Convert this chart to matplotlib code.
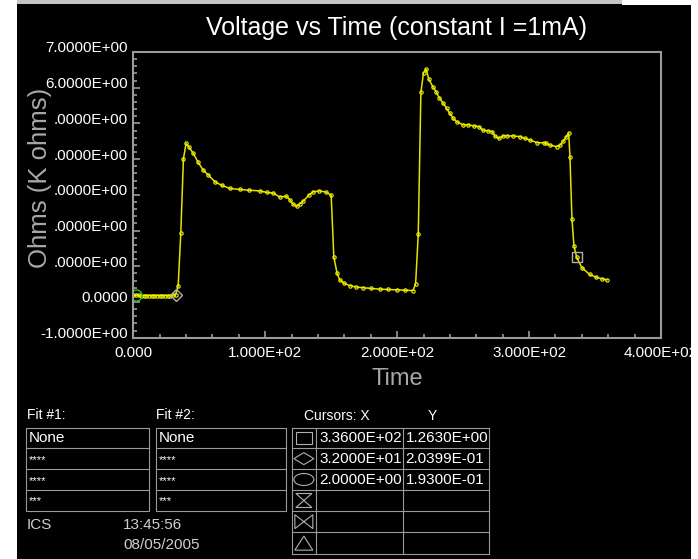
"""Voltage vs Time screen capture - ICS style readout with fit and cursor tables"""
import matplotlib
matplotlib.use("Agg")
import matplotlib.pyplot as plt
from matplotlib.patches import Rectangle, Ellipse, Polygon
from matplotlib.ticker import MultipleLocator, FixedLocator, FixedFormatter
from matplotlib.transforms import ScaledTranslation

plt.rcParams['font.family'] = ['Liberation Sans', 'DejaVu Sans']

# time (s) and resistance (K ohms)
time_s = [0, 2, 4, 6, 8, 10, 12, 14, 16, 18, 20, 22, 24, 26, 28, 30, 32,
          34, 36, 38, 40, 42, 45.5, 49, 53, 57, 62, 67, 73, 81, 88, 96,
          101, 106, 111, 116, 119, 121, 124, 126, 129, 133, 136, 141, 146,
          150, 152, 154.5, 156.5, 160, 164, 169, 174, 180, 187, 193, 200,
          206, 212, 214, 216, 218, 220, 222, 224, 227, 229.5, 232, 235,
          237.5, 240, 242.5, 245, 250, 254, 258, 262, 265, 269, 272, 274,
          277, 280.5, 283, 288, 293, 297, 301, 306, 311, 313, 316, 321,
          323.5, 326, 328, 330, 331, 332.5, 334, 336, 340, 346, 351, 355,
          359]
ohms = [0.19, 0.19, 0.19, 0.18, 0.18, 0.18, 0.18, 0.18, 0.18, 0.18, 0.18,
        0.18, 0.18, 0.18, 0.18, 0.19, 0.20,
        0.45, 1.92, 4.01, 4.44, 4.35, 4.16, 3.92, 3.69, 3.55, 3.36, 3.27,
        3.18, 3.15, 3.13, 3.11, 3.07, 3.05, 2.94, 2.96, 2.85, 2.74, 2.68,
        2.74, 2.83, 2.99, 3.08, 3.11, 3.08,
        2.99, 1.26, 0.80, 0.62, 0.52, 0.46, 0.42, 0.40, 0.38, 0.36, 0.35,
        0.34, 0.33, 0.32, 0.51, 1.89, 5.87, 6.42, 6.52, 6.24, 6.03, 5.89,
        5.71, 5.56, 5.42, 5.28, 5.14, 5.05, 4.96, 4.96, 4.93, 4.91, 4.81,
        4.79, 4.77, 4.65, 4.58, 4.65, 4.65, 4.65, 4.63, 4.58, 4.53, 4.46,
        4.46, 4.44, 4.39, 4.35, 4.39, 4.51, 4.61, 4.74, 4.06, 2.33, 1.58,
        1.26, 0.96, 0.77, 0.69, 0.65, 0.62]

# cursor readout
cursor_x = [336.0, 32.0, 2.0]
cursor_y = [1.2630, 0.20399, 0.1930]
cursor_x_txt = ['3.3600E+02', '3.2000E+01', '2.0000E+00']
cursor_y_txt = ['1.2630E+00', '2.0399E-01', '1.9300E-01']

ytick_vals = [-1, 0, 1, 2, 3, 4, 5, 6, 7]
ytick_txt = ['-1.0000E+00', '0.0000', '.0000E+00', '.0000E+00', '.0000E+00',
             '.0000E+00', '.0000E+00', '6.0000E+00', '7.0000E+00']
xtick_vals = [0, 100, 200, 300, 400]
xtick_txt = ['0.000', '1.000E+02', '2.000E+02', '3.000E+02', '4.000E+02']

fit_rows = ['None', '****', '****', '***']

W, H = 698, 559
GRID = '#9a9a9a'

fig = plt.figure(figsize=(W / 100, H / 100), dpi=100, facecolor='black')

# overlay in pixel coordinates for the window chrome and tables
ov = fig.add_axes([0, 0, 1, 1], zorder=0)
ov.set_xlim(0, W)
ov.set_ylim(H, 0)
ov.axis('off')
ov.add_patch(Rectangle((0, 0), 17, H, facecolor='white', edgecolor='none'))
ov.add_patch(Rectangle((17, 0), 605, 4, facecolor='#c4c4c4', edgecolor='none'))
ov.add_patch(Rectangle((622, 0), W - 622, 5, facecolor='white', edgecolor='none'))
ov.add_patch(Rectangle((691, 0), 7, H, facecolor='white', edgecolor='none'))

# main plot
ax = fig.add_axes([133.3 / W, 1 - 337.7 / H, 527.7 / W, 285.7 / H], zorder=2)
ax.set_facecolor('black')
ax.plot(time_s, ohms, color='#e4e400', linewidth=1.1, marker='o', markersize=2.4,
        markerfacecolor='none', markeredgecolor='#f4f400', markeredgewidth=0.8)

ax.plot(cursor_x[0], cursor_y[0], marker='s', markersize=7, mfc='none',
        mec='#b0b0b0', mew=1.0, linestyle='none')
ax.plot(cursor_x[1], cursor_y[1], marker='D', markersize=6, mfc='none',
        mec='#b0b0b0', mew=1.0, linestyle='none')
ax.plot(cursor_x[2], cursor_y[2], marker='o', markersize=8, mfc='none',
        mec='#20c020', mew=1.0, linestyle='none')

ax.set_xlim(0, 400)
ax.set_ylim(-1, 7)
for s in ax.spines.values():
    s.set_color(GRID)
    s.set_linewidth(1.5)

ax.yaxis.set_major_locator(FixedLocator(ytick_vals))
ax.yaxis.set_major_formatter(FixedFormatter(ytick_txt))
ax.yaxis.set_minor_locator(MultipleLocator(0.2))
ax.xaxis.set_major_locator(FixedLocator(xtick_vals))
ax.xaxis.set_major_formatter(FixedFormatter(xtick_txt))
ax.xaxis.set_minor_locator(MultipleLocator(20))
ax.tick_params(which='both', direction='in', color=GRID, labelcolor='white',
               labelsize=11, width=1.2)
ax.tick_params(which='major', length=5)
ax.tick_params(which='minor', length=2.8)
ax.tick_params(axis='y', pad=4)
ax.tick_params(axis='x', pad=6)
shift = ScaledTranslation(0, 0.05, fig.dpi_scale_trans)
for lab in ax.get_yticklabels():
    lab.set_transform(lab.get_transform() + shift)

fig.text(397 / W, 1 - 28 / H, 'Voltage vs Time (constant I =1mA)', color='white',
         fontsize=18, ha='center', va='center')
fig.text(397 / W, 1 - 379 / H, 'Time', color='#a8a8a8', fontsize=17,
         ha='center', va='center')
fig.text(40 / W, 1 - 178 / H, 'Ohms (K ohms)', color='#a8a8a8', fontsize=18.5,
         rotation=90, ha='center', va='center', zorder=3)

# fit tables
row_edges = [427.7, 448.3, 469.3, 490, 511]
for title, x0, x1 in [('Fit #1:', 25.7, 149.3), ('Fit #2:', 155.5, 285.7)]:
    ov.text(x0 + 1, 415, title, color='white', fontsize=10, va='center')
    ov.add_patch(Rectangle((x0, row_edges[0]), x1 - x0, row_edges[-1] - row_edges[0],
                           fill=False, edgecolor=GRID, linewidth=0.8))
    for yy in row_edges[1:-1]:
        ov.plot([x0, x1], [yy, yy], color=GRID, linewidth=0.8)
    for i, txt in enumerate(fit_rows):
        yc = (row_edges[i] + row_edges[i + 1]) / 2
        big = txt == 'None'
        ov.text(x0 + 3, yc + (0 if big else 1), txt, color='white',
                fontsize=11 if big else 8, va='center')

ov.text(27, 525, 'ICS', color='#d0d0d0', fontsize=11, va='center')
ov.text(123, 525, '13:45:56', color='#d0d0d0', fontsize=11, va='center')
ov.text(123, 545, '08/05/2005', color='#d0d0d0', fontsize=11, va='center')

# cursor table
cx = [291.7, 316, 402.7, 489]
cy = [427.7, 448.3, 469, 490, 511, 532.3, 554]
ov.text(304, 416, 'Cursors: X', color='white', fontsize=10, va='center')
ov.text(432, 416, 'Y', color='white', fontsize=10, va='center', ha='center')
for xx in cx:
    ov.plot([xx, xx], [cy[0], cy[-1]], color=GRID, linewidth=0.8)
for yy in cy:
    ov.plot([cx[0], cx[-1]], [yy, yy], color=GRID, linewidth=0.8)
for i in range(len(cursor_x_txt)):
    yc = (cy[i] + cy[i + 1]) / 2
    ov.text(cx[1] + 3, yc, cursor_x_txt[i], color='white', fontsize=11, va='center')
    ov.text(cx[2] + 3, yc, cursor_y_txt[i], color='white', fontsize=11, va='center')

# cursor symbols
ic = (cx[0] + cx[1]) / 2
mid = [(cy[i] + cy[i + 1]) / 2 for i in range(6)]
sym = dict(fill=False, edgecolor='#b0b0b0', linewidth=0.8)
ov.add_patch(Rectangle((ic - 8, mid[0] - 6), 16, 12, **sym))
ov.add_patch(Polygon([(ic - 10, mid[1]), (ic, mid[1] - 6), (ic + 10, mid[1]),
                      (ic, mid[1] + 6)], closed=True, **sym))
ov.add_patch(Ellipse((ic, mid[2]), 20, 12, **sym))
ov.add_patch(Polygon([(ic - 8, mid[3] - 7), (ic + 8, mid[3] - 7), (ic - 8, mid[3] + 7),
                      (ic + 8, mid[3] + 7)], closed=True, **sym))
ov.add_patch(Polygon([(ic - 9, mid[4] - 7), (ic + 9, mid[4] + 7), (ic + 9, mid[4] - 7),
                      (ic - 9, mid[4] + 7)], closed=True, **sym))
ov.add_patch(Polygon([(ic - 9, mid[5] + 7), (ic, mid[5] - 7), (ic + 9, mid[5] + 7)],
                     closed=True, **sym))

fig.savefig('out.png', dpi=100, facecolor='black')
